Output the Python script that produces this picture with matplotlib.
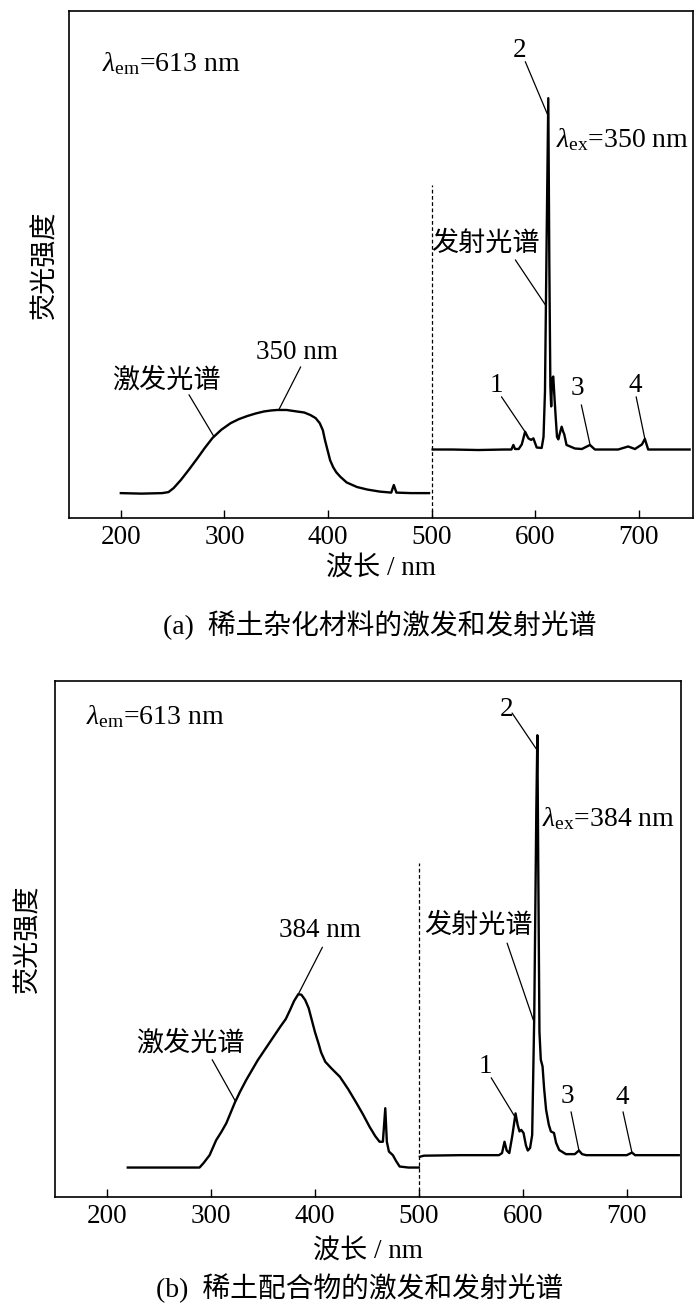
import matplotlib
matplotlib.use("Agg")
import matplotlib.pyplot as plt
import numpy as np

plt.rcParams.update({
    "font.family": ["Liberation Serif", "Noto Sans CJK SC"],
    "font.size": 19,
    "mathtext.fontset": "custom",
    "mathtext.rm": "Liberation Serif",
    "mathtext.it": "Liberation Serif:italic",
    "axes.linewidth": 1.2,
})
CJK = ["Noto Sans CJK SC", "DejaVu Sans"]
MIX = ["Liberation Serif", "Noto Sans CJK SC"]

# ---- panel (a): hybrid material ----
exc_a_nm = [200, 220, 240, 246, 251, 258, 266, 274, 281, 288.6, 297, 306, 314,
            322, 330, 338, 345, 351, 360, 370, 377, 383, 388, 392, 395, 397,
            400, 402, 405, 408, 412, 418, 428, 438, 450, 461, 463.5, 466, 480,
            497.5]
exc_a_int = [4.9, 4.8, 4.9, 5.1, 5.9, 7.5, 9.6, 11.8, 13.8, 15.8, 17.4, 18.7,
             19.5, 20.1, 20.6, 21.0, 21.2, 21.3, 21.3, 21.0, 20.8, 20.3, 19.7,
             18.7, 17.3, 15.4, 13.0, 11.4, 10.0, 9.0, 8.1, 7.0, 6.1, 5.6, 5.2,
             5.0, 6.5, 5.0, 4.9, 4.9]
em_a_nm = [501, 520, 545, 570, 577, 578.9, 580.5, 584, 587, 590.2, 593.4, 596,
           598.2, 601.4, 606.2, 608, 609.4, 611, 612.6, 613.6, 614.6, 615.4,
           616.2, 617.4, 618.5, 619.7, 621, 622.3, 623.5, 625.5, 627, 628,
           630.2, 638.3, 645, 652.8, 657.6, 680, 689.7, 696.2, 703, 705.8,
           709, 730, 749]
em_a_int = [13.5, 13.5, 13.4, 13.5, 13.5, 14.4, 13.6, 13.6, 14.5, 17.0, 15.7,
            15.4, 15.7, 13.9, 13.8, 16.0, 25.0, 55.0, 82.8, 50.0, 26.0, 22.0,
            27.5, 27.9, 24.0, 20.0, 16.0, 15.5, 16.5, 18.0, 17.0, 16.5, 14.4,
            13.7, 13.6, 14.4, 13.5, 13.5, 14.1, 13.6, 14.5, 15.6, 13.5, 13.5,
            13.5]

# ---- panel (b): complex ----
exc_b_nm = [220, 250, 289, 293, 298.7, 305, 310, 314.8, 322.8, 328, 334, 345,
            356, 366.7, 372, 376, 380, 384, 387, 390.6, 394, 397, 400, 403.4,
            406, 410, 416, 424, 432, 440, 446, 452.6, 458, 462.2, 465.4, 467.7,
            469.2, 471.2, 475, 478, 481.5, 490, 500]
exc_b_int = [5.7, 5.7, 5.7, 6.6, 8.1, 11.0, 12.6, 14.3, 18.2, 20.4, 22.7, 26.5,
             29.8, 33.0, 34.5, 36.2, 38.0, 39.3, 39.2, 38.2, 36.6, 34.3, 32.0,
             29.8, 28.0, 26.2, 24.9, 23.3, 20.9, 18.2, 16.1, 13.6, 11.8, 10.7,
             10.7, 17.2, 10.7, 8.8, 8.1, 7.0, 5.9, 5.7, 5.7]
em_b_nm = [501, 505, 540, 577, 580, 582.4, 584.5, 587, 590, 593, 595, 596.8,
           598.5, 600.7, 603, 604.8, 607, 609, 611, 613, 614, 615, 616, 617.3,
           619, 620.5, 622.4, 625, 627, 630, 632, 635, 641.5, 650, 654, 657,
           661, 700, 705, 708, 750]
em_b_int = [7.8, 8.0, 8.1, 8.1, 8.5, 10.7, 9.0, 8.5, 12.0, 16.2, 14.0, 12.7,
            13.0, 12.4, 10.0, 9.0, 9.5, 12.0, 35.0, 75.0, 89.5, 60.0, 32.0,
            26.6, 25.3, 21.0, 16.9, 14.0, 12.7, 12.4, 10.5, 9.1, 8.3, 8.3, 9.0,
            8.3, 8.1, 8.1, 8.6, 8.1, 8.1]

xticks = [200, 300, 400, 500, 600, 700]

panels = [
    dict(rect=[0.0986, 0.6034, 0.891, 0.3882], exc=(exc_a_nm, exc_a_int),
         em=(em_a_nm, em_a_int), exc_peak="350 nm", ex_label=r"$\lambda_{\rm ex}$=350 nm",
         caption="(a)  稀土杂化材料的激发和发射光谱", cap_xy=(0.543, 0.5214),
         dash_top=65.7, ylabel_pad=8, xlabel_pad=5,
         em_lbl=(182, 89.7), ex_lbl=(620.3, 74.6),
         n2=((584.6, 92.3), (590.4, 90.0), 612.4),
         fs=((500, 54.2), (580.8, 50.9), 610.3),
         n1=((562.6, 26.2), (567.4, 23.9), 590.3),
         n3=((640.6, 25.6), (644.5, 22.3), 653.0),
         n4=((696.4, 26.2), (697.4, 23.9), 705.8),
         pk=((330.3, 32.7), (373.6, 29.8), 352.4),
         jf=((191.6, 27.2), (265.8, 24.3), 289.9)),
    dict(rect=[0.0786, 0.0835, 0.894, 0.395], exc=(exc_b_nm, exc_b_int),
         em=(em_b_nm, em_b_int), exc_peak="384 nm", ex_label=r"$\lambda_{\rm ex}$=384 nm",
         caption="(b)  稀土配合物的激发和发射光谱", cap_xy=(0.514, 0.0138),
         dash_top=64.7, ylabel_pad=10, xlabel_pad=8,
         em_lbl=(180.2, 93.1), ex_lbl=(618.5, 73.4),
         n2=((584, 94.4), (589.7, 93.8), 613.8),
         fs=((505.2, 52.7), (584.9, 49.2), 610.9),
         n1=((563.9, 25.2), (569.6, 23.1), 592.5),
         n3=((642.6, 19.4), (646.4, 16.5), 654.0),
         n4=((695.4, 19.2), (696.4, 16.5), 705.0),
         pk=((365.9, 51.7), (407.2, 48.4), 384.0),
         jf=((228.2, 29.8), (301.2, 26.6), 323.6)),
]

fig = plt.figure(figsize=(7, 13.06), dpi=100)

for p in panels:
    ax = fig.add_axes(p["rect"])
    ex_x, ex_y = p["exc"]
    em_x, em_y = p["em"]
    ax.plot(ex_x, ex_y, "k-", lw=1.7, solid_joinstyle="round")
    ax.plot(em_x, em_y, "k-", lw=1.7, solid_joinstyle="round")
    ax.plot([500, 500], [0, p["dash_top"]], "k--", lw=0.9, dashes=(3, 2))
    ax.set_xlim(150, 752)
    ax.set_ylim(0, 100)
    ax.set_xticks(xticks)
    ax.set_yticks([])
    ax.tick_params(axis="x", direction="in", length=6, width=1.0, pad=5,
                   labelsize=19.5)
    ax.set_xlabel("波长 / nm", family=MIX, fontsize=19.5,
                  labelpad=p["xlabel_pad"])
    ax.set_ylabel("荧光强度", family=CJK, fontsize=19.5,
                  labelpad=p["ylabel_pad"])

    ax.text(*p["em_lbl"], r"$\lambda_{\rm em}$=613 nm", ha="left", va="center",
            fontsize=20)
    ax.text(*p["ex_lbl"], p["ex_label"], ha="left", va="center", fontsize=20)

    def leader(spec, text, xs, ys, ha="center", family=None, fs=19.5):
        (tx, ty), (lx, ly), cx = spec
        ax.text(tx, ty, text, ha=ha, va="center", fontsize=fs, family=family)
        ax.annotate("", xy=(cx, np.interp(cx, xs, ys)), xytext=(lx, ly),
                    arrowprops=dict(arrowstyle="-", lw=0.9, shrinkA=0,
                                    shrinkB=0, color="k"))

    leader(p["n2"], "2", em_x, em_y)
    leader(p["fs"], "发射光谱", em_x, em_y, ha="left", family=CJK)
    leader(p["n1"], "1", em_x, em_y)
    leader(p["n3"], "3", em_x, em_y)
    leader(p["n4"], "4", em_x, em_y)
    leader(p["pk"], p["exc_peak"], ex_x, ex_y, ha="left")
    leader(p["jf"], "激发光谱", ex_x, ex_y, ha="left", family=CJK)

    fig.text(*p["cap_xy"], p["caption"], ha="center", va="center",
             family=MIX, fontsize=20)

fig.savefig("out.png", dpi=100)
